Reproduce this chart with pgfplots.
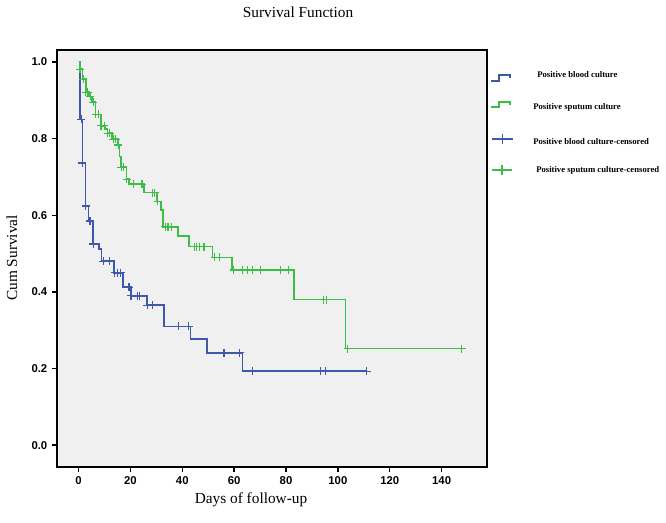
\documentclass[border=0pt]{standalone}
\usepackage{fontspec}
\setmainfont{Liberation Serif}
\newfontfamily\arialfont{Liberation Sans}
\usepackage{pgfplots}
\pgfplotsset{compat=1.18}
\definecolor{kmblue}{RGB}{62,88,172}
\definecolor{kmgreen}{RGB}{60,190,70}
\definecolor{bggray}{RGB}{240,240,240}

\begin{document}
\begin{tikzpicture}
\begin{axis}[
  at={(42.75pt,-350.25pt)}, anchor=south west,
  scale only axis, width=322.5pt, height=312.75pt,
  xmin=-8.3, xmax=157.5, ymin=-0.057, ymax=1.031,
  xtick={0,20,40,60,80,100,120,140},
  ytick={0,0.2,0.4,0.6,0.8,1},
  tick pos=left, tick align=outside,
  major tick length=3.75pt,
  every tick/.style={black, line width=1pt},
  axis line style={line width=1.1pt},
  axis background/.style={fill=bggray},
  tick label style={font=\fontsize{8.5}{10}\selectfont\arialfont\bfseries},
  /pgf/number format/assume math mode=true,
  yticklabel style={/pgf/number format/.cd, fixed, fixed zerofill, precision=1},
  clip=false,
]
% Positive blood culture
\addplot[kmblue, line width=1.25pt, const plot mark left] coordinates {
  (0,1.0) (0.5,0.85) (1.5,0.736) (2.7,0.624) (3.8,0.585) (5.7,0.525)
  (7.9,0.512) (8.9,0.48) (13.8,0.45) (17.2,0.412) (20.2,0.39) (26.5,0.365)
  (32.9,0.31) (43.2,0.277) (49.5,0.241) (63.2,0.193) (111.1,0.193)
};
\addplot[kmblue, only marks, mark=+, mark size=3pt, mark options={line width=0.9pt}] coordinates {
  (1,0.85) (1.5,0.736) (2.7,0.624) (4.4,0.585) (5.7,0.525) (9.5,0.48) (11.8,0.48)
  (14,0.45) (14.9,0.45) (16.2,0.45) (19.5,0.412) (20.2,0.39) (22.6,0.39) (23.4,0.39)
  (26.5,0.365) (28.5,0.365) (38.4,0.31) (42.5,0.31) (56.1,0.241) (62.1,0.241)
  (67.2,0.193) (93.3,0.193) (95.2,0.193) (111.1,0.193)
};
% Positive sputum culture
\addplot[kmgreen, line width=1.25pt, const plot mark left] coordinates {
  (0,1.0) (0.5,0.981) (1.5,0.955) (2.8,0.921) (4.0,0.91) (5.1,0.895) (6.6,0.863)
  (8.7,0.833) (10.2,0.824) (11.2,0.814) (12.8,0.798) (15.1,0.783) (15.8,0.753)
  (16.3,0.725) (18.5,0.694) (19.5,0.681) (25.2,0.659) (30.3,0.636) (31.7,0.614)
  (32.6,0.57) (38.4,0.546) (42.6,0.518) (51.6,0.49) (59.2,0.457) (83,0.38)
  (103,0.252) (147.8,0.252)
};
\addplot[kmgreen, only marks, mark=+, mark size=3pt, mark options={line width=0.9pt}] coordinates {
  (0.6,0.981) (1.8,0.955) (2.8,0.921) (3.5,0.921) (4.5,0.91) (5.7,0.895) (6.6,0.863)
  (7.6,0.863) (8.7,0.833) (9.9,0.833) (11.2,0.814) (12,0.814) (13.4,0.798) (14.3,0.798)
  (15.3,0.783) (16.5,0.725) (17.3,0.725) (18.5,0.694) (21.3,0.681) (24.5,0.681)
  (28.5,0.659) (29.4,0.659) (30.5,0.636) (33.5,0.57) (34.5,0.57) (35.8,0.57)
  (44.8,0.518) (45.5,0.518) (46.5,0.518) (48.4,0.518) (52.5,0.49) (54.4,0.49)
  (59.9,0.457) (63.2,0.457) (65.3,0.457) (67.2,0.457) (70.2,0.457) (77.9,0.457)
  (81.1,0.457) (94.4,0.38) (95.7,0.38) (103.8,0.252) (147.8,0.252)
};
\end{axis}

\begin{scope}[x=0.75pt, y=-0.75pt]
\path[use as bounding box] (0,0) rectangle (666,523);
% titles
\node[font=\fontsize{11.5}{13}\selectfont] at (298,12) {Survival Function};
\node[font=\fontsize{11.5}{13}\selectfont] at (251,500) {Days of follow-up};
\node[font=\fontsize{11.5}{13}\selectfont, rotate=90] at (12,258) {Cum Survival};
% legend
\begin{scope}[font=\fontsize{6.5}{8}\selectfont\bfseries, every node/.style={inner sep=0pt, anchor=west}]
\draw[kmblue, line width=1.1pt] (491,81) -- (499,81) -- (499,75) -- (510,75) -- (510,78);
\node at (537,75) {Positive blood culture};
\draw[kmgreen, line width=1.1pt] (491,107) -- (499,107) -- (499,102) -- (510,102) -- (510,105);
\node at (533,107) {Positive sputum culture};
\draw[kmblue, line width=1pt] (492,139) -- (513,139) (502.5,134) -- (502.5,144);
\node at (533,142) {Positive blood culture-censored};
\draw[kmgreen, line width=1pt] (492,170) -- (512,170) (502,165) -- (502,175);
\node at (536,170) {Positive sputum culture-censored};
\end{scope}
\end{scope}
\end{tikzpicture}
\end{document}
